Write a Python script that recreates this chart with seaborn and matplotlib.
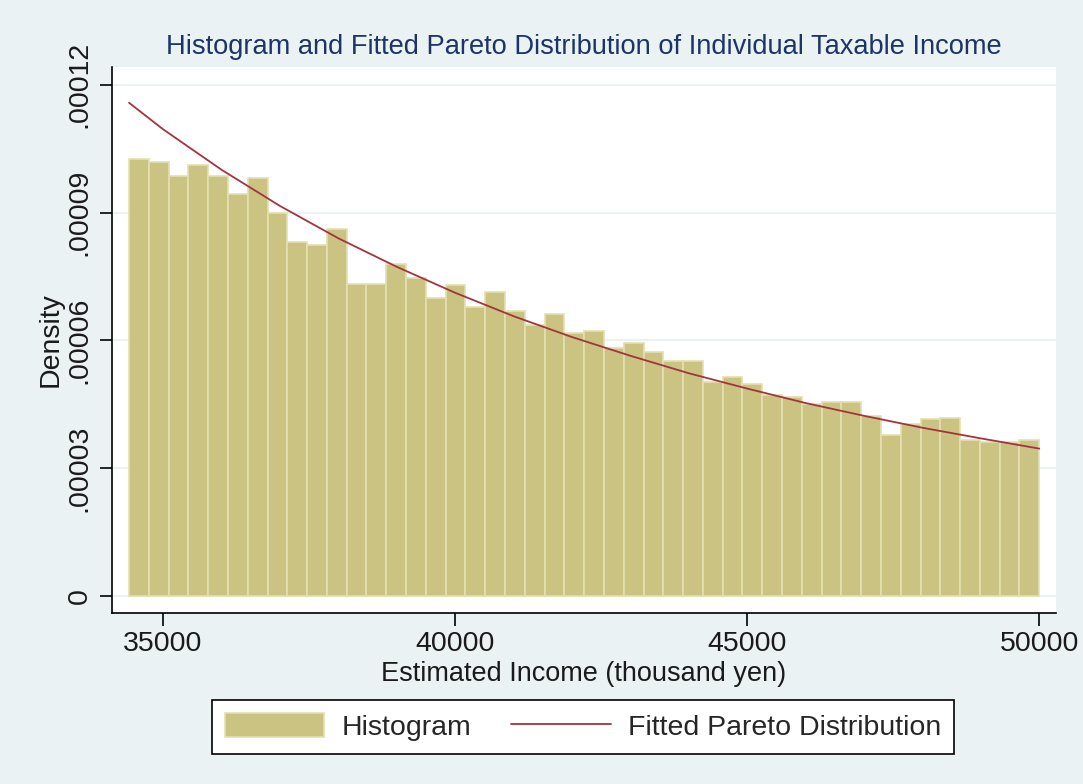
import numpy as np
import pandas as pd
import matplotlib
matplotlib.use("Agg")
import matplotlib.pyplot as plt
from matplotlib.patches import Patch
from matplotlib.lines import Line2D
import seaborn as sns

# Histogram of taxable income (thousand yen): 46 equal-width bins on [34420, 50000]
bin_low = 34420
bin_high = 50000
n_bins = 46
bin_density = [
    10.26, 10.19, 9.85, 10.11, 9.85, 9.44, 9.81, 8.99, 8.32, 8.24,
    8.61, 7.33, 7.33, 7.79, 7.46, 7.00, 7.29, 6.79, 7.13, 6.68,
    6.36, 6.63, 6.17, 6.22, 5.83, 5.93, 5.72, 5.51, 5.51, 5.02,
    5.14, 4.97, 4.72, 4.68, 4.50, 4.56, 4.56, 4.23, 3.77, 4.03,
    4.15, 4.19, 3.66, 3.61, 3.61, 3.66,
]  # x 1e-5

# Fitted Pareto density evaluated along the income range
pareto_income = [34420, 35000, 36000, 37000, 38000, 39000, 40000, 41000, 42000,
                 43000, 44000, 45000, 46000, 47000, 48000, 49000, 50000]
pareto_density = [11.58, 10.96, 10.01, 9.16, 8.40, 7.73, 7.12, 6.57, 6.08,
                  5.64, 5.23, 4.87, 4.53, 4.23, 3.95, 3.70, 3.46]  # x 1e-5

x_ticks = [35000, 40000, 45000, 50000]
y_ticks = [0, 0.00003, 0.00006, 0.00009, 0.00012]
y_tick_labels = ["0", ".00003", ".00006", ".00009", ".00012"]

title = "Histogram and Fitted Pareto Distribution of Individual Taxable Income"
x_label = "Estimated Income (thousand yen)"
y_label = "Density"
legend_labels = ["Histogram", "Fitted Pareto Distribution"]

# colours
bg = "#EAF2F3"
bar_face = "#CBC382"
bar_edge = "#E4DFB2"
curve_col = "#A3343E"
title_col = "#1C3466"
text_col = "#1A1A1A"

sns.set_theme(style="white")
plt.rcParams["font.family"] = ["Liberation Sans", "DejaVu Sans"]

edges = np.linspace(bin_low, bin_high, n_bins + 1)
hist_df = pd.DataFrame({
    "income": (edges[:-1] + edges[1:]) / 2,
    "density": np.array(bin_density) * 1e-5,
})
curve_df = pd.DataFrame({
    "income": pareto_income,
    "density": np.array(pareto_density) * 1e-5,
})

fig = plt.figure(figsize=(10.83, 7.84), dpi=100, facecolor=bg)
ax = fig.add_axes([112 / 1083, 1 - 613 / 784, (1056 - 112) / 1083, (613 - 67) / 784])
ax.set_facecolor("white")

sns.histplot(data=hist_df, x="income", weights="density", bins=n_bins,
             binrange=(bin_low, bin_high), stat="count",
             color=bar_face, edgecolor=bar_edge, linewidth=1.2,
             alpha=1, ax=ax, zorder=2)
sns.lineplot(data=curve_df, x="income", y="density", color=curve_col,
             linewidth=1.3, ax=ax, zorder=3)

ax.set_xlim(34128, 50287)
ax.set_ylim(-0.0000040, 0.0001242)
ax.set_xticks(x_ticks)
ax.set_xticklabels([str(v) for v in x_ticks])
ax.set_yticks(y_ticks)
ax.set_yticklabels(y_tick_labels, rotation=90, va="center")

ax.yaxis.grid(True, color=bg, linewidth=1.5, zorder=0)
ax.xaxis.grid(False)
ax.set_axisbelow(True)

for side in ["top", "right"]:
    ax.spines[side].set_visible(False)
for side in ["left", "bottom"]:
    ax.spines[side].set_color("black")
    ax.spines[side].set_linewidth(1.2)

ax.tick_params(axis="both", direction="out", length=9, width=1.2,
               color="black", labelsize=20.5, labelcolor=text_col,
               bottom=True, left=True, top=False, right=False)
ax.tick_params(axis="x", pad=4)
ax.tick_params(axis="y", pad=5)

ax.set_xlabel(x_label, fontsize=19.5, color=text_col, labelpad=3)
ax.set_ylabel(y_label, fontsize=20.5, color=text_col, labelpad=2)
ax.set_title(title, fontsize=19.6, color=title_col, pad=9)

handles = [Patch(facecolor=bar_face, edgecolor=bar_edge, linewidth=1.2),
           Line2D([0], [0], color=curve_col, linewidth=1.3)]
leg = fig.legend(handles, legend_labels, loc="center",
                 bbox_to_anchor=(583 / 1083, 1 - 727 / 784), ncol=2,
                 fontsize=20.5, frameon=True, fancybox=False, framealpha=1,
                 edgecolor="black", facecolor="white", handlelength=3.5,
                 handleheight=0.9, handletextpad=0.6, columnspacing=1.4,
                 borderpad=0.45)
leg.get_frame().set_linewidth(1.2)

fig.savefig("out.png", dpi=100, facecolor=bg)
